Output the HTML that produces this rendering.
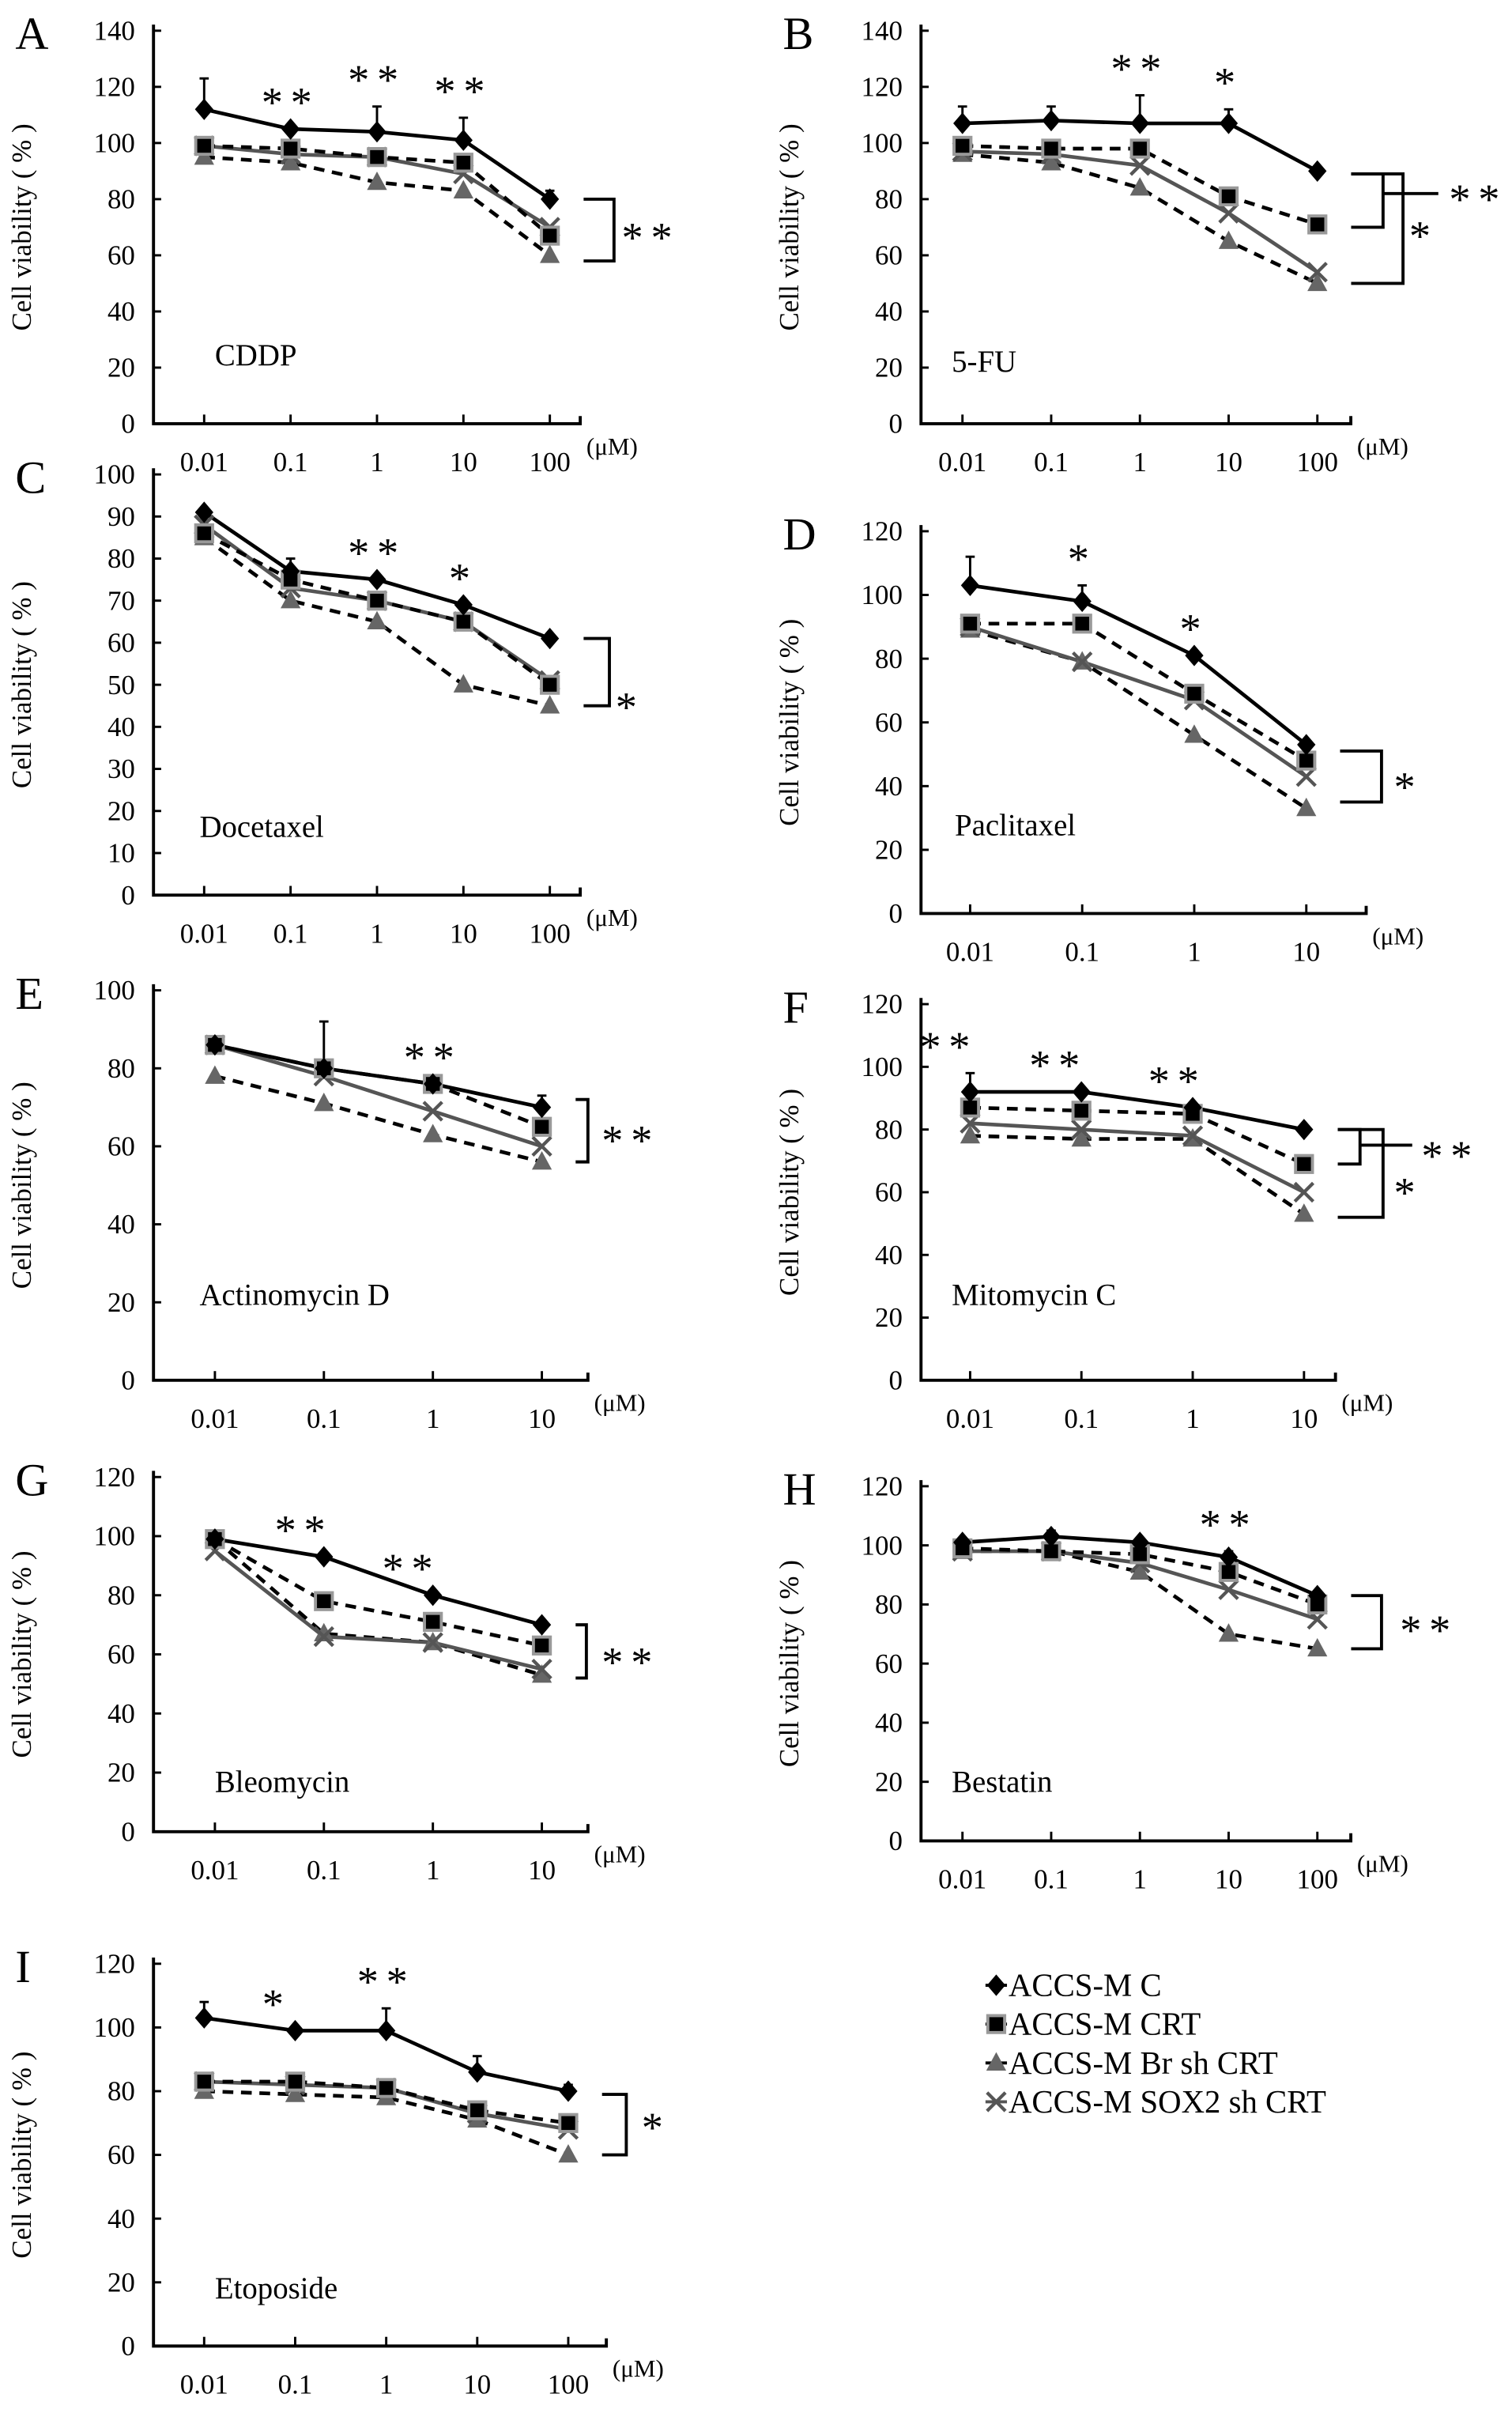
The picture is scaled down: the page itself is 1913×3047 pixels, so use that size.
<!DOCTYPE html>
<html><head><meta charset="utf-8"><style>
html,body{margin:0;padding:0;background:#fff;}
svg{display:block;font-family:"Liberation Serif",serif;}
</style></head><body>
<svg id="fig" width="1913" height="3047" viewBox="0 0 985 1569" preserveAspectRatio="none" xmlns="http://www.w3.org/2000/svg"></svg>
<script>
// ---- data arrays ----
const conc5 = ["0.01","0.1","1","10","100"];
const conc4 = ["0.01","0.1","1","10"];
const seriesNames = ["ACCS-M C","ACCS-M CRT","ACCS-M Br sh CRT","ACCS-M SOX2 sh CRT"];
const ticks140 = [0,20,40,60,80,100,120,140];
const ticks120 = [0,20,40,60,80,100,120];
const ticks100s10 = [0,10,20,30,40,50,60,70,80,90,100];
const ticks100s20 = [0,20,40,60,80,100];
// A CDDP
const aC=[112,105,104,101,80], aCerr=[11,0,9,8,3], aCRT=[99,98,95,93,67], aBr=[95,93,86,83,60], aSOX=[99,96,95,89,70];
// B 5-FU
const bC=[107,108,107,107,90], bCerr=[6,5,10,5,0], bCRT=[99,98,98,81,71], bBr=[96,93,84,65,50], bSOX=[97,96,92,75,54];
// C Docetaxel
const cC=[91,77,75,69,61], cCerr=[0,3,0,0,0], cCRT=[86,75,70,65,50], cBr=[85,70,65,50,45], cSOX=[88,73,70,65,51];
// D Paclitaxel
const dC=[103,98,81,53], dCerr=[9,5,0,0], dCRT=[91,91,69,48], dBr=[89,79,56,33], dSOX=[90,79,67,43];
// E Actinomycin D
const eC=[86,80,76,70], eCerr=[0,12,0,3], eCRT=[86,80,76,65], eBr=[78,71,63,56], eSOX=[86,78,69,60];
// F Mitomycin C
const fC=[92,92,87,80], fCerr=[6,0,0,0], fCRT=[87,86,85,69], fBr=[78,77,77,53], fSOX=[82,80,78,60];
// G Bleomycin
const gC=[99,93,80,70], gCerr=[0,0,0,0], gCRT=[99,78,71,63], gBr=[99,67,64,53], gSOX=[95,66,64,55];
// H Bestatin
const hC=[101,103,101,96,83], hCerr=[0,2,0,2,0], hCRT=[99,98,97,91,80], hBr=[98,98,91,70,65], hSOX=[98,98,94,85,75];
// I Etoposide
const iC=[103,99,99,86,80], iCerr=[5,0,7,5,2], iCRT=[83,83,81,74,70], iBr=[80,79,78,71,60], iSOX=[83,82,81,73,68];
// significance stars per point
const aStars=["","**","**","**",""], bStars=["","","**","*",""], cStars=["","","**","*",""], dStars=["","*","*",""];
const eStars=["","","**",""], fStars=["**","**","**",""], gStars=["","**","**",""], hStars=["","","","**",""], iStars=["","*","**","",""];

const NS="http://www.w3.org/2000/svg";
const svg=document.getElementById('fig');
function el(tag,attrs,parent,text){const e=document.createElementNS(NS,tag);for(const k in attrs)e.setAttribute(k,attrs[k]);if(text!==undefined)e.textContent=text;(parent||svg).appendChild(e);return e;}

function marker(g,type,x,y){
  let m;
  if(type===0){m=el('path',{d:`M${x} ${y-7}L${x+6} ${y}L${x} ${y+7}L${x-6} ${y}Z`,fill:'#000'},g);}
  else if(type===1){m=el('rect',{x:x-5.5,y:y-5.5,width:11,height:11,fill:'#000',stroke:'#999','stroke-width':2},g);}
  else if(type===2){m=el('path',{d:`M${x} ${y-7}L${x+6.5} ${y+5}L${x-6.5} ${y+5}Z`,fill:'#666'},g);}
  else {m=el('path',{d:`M${x-6} ${y-6}L${x+6} ${y+6}M${x+6} ${y-6}L${x-6} ${y+6}`,stroke:'#555','stroke-width':2.2,fill:'none'},g);}
  
  
}

function panel(cfg){
  const g=el('g',{});
  
  
  const ys=v=>cfg.y0-(v/cfg.ymax)*(cfg.y0-cfg.yTop);
  const xs=i=>cfg.x0+i*cfg.dx;
  const n=cfg.cats.length;
  const t=el('text',{x:cfg.ax-90,y:cfg.yTop+12,'font-size':30},g,cfg.letter);
  
  const ax=el('path',{d:`M${cfg.ax} ${cfg.yTop-4}L${cfg.ax} ${cfg.y0}L${cfg.xEnd} ${cfg.y0}L${cfg.xEnd} ${cfg.y0-5}`,stroke:'#000','stroke-width':2,fill:'none'},g);
  
  cfg.yt.forEach(v=>{
    el('line',{x1:cfg.ax,x2:cfg.ax+5,y1:ys(v),y2:ys(v),stroke:'#000','stroke-width':1.5},g);
    const l=el('text',{x:cfg.ax-12,y:ys(v)+6,'font-size':18,'text-anchor':'end'},g,v);
    
  });
  cfg.cats.forEach((c,i)=>{
    el('line',{x1:xs(i),x2:xs(i),y1:cfg.y0,y2:cfg.y0-6,stroke:'#000','stroke-width':1.5},g);
    const l=el('text',{x:xs(i),y:cfg.y0+31,'font-size':18,'text-anchor':'middle'},g,c);
    
  });
  const u=el('text',{x:cfg.xEnd+4,y:cfg.y0+20,'font-size':16},g,'(μM)');
  
  const yl=el('text',{x:0,y:0,'font-size':18,'text-anchor':'middle',transform:`translate(${cfg.ax-80},${(cfg.yTop+cfg.y0)/2}) rotate(-90)`},g,'Cell viability ( % )');
  
  const dl=el('text',{x:cfg.dlx,y:cfg.dly,'font-size':20},g,cfg.drug);
  
  cfg.series[0].forEach((v,i)=>{ if(cfg.err[i]>0){
    const e=el('line',{x1:xs(i),x2:xs(i),y1:ys(v),y2:ys(v+cfg.err[i]),stroke:'#000','stroke-width':1.5},g);
    
    el('line',{x1:xs(i)-3,x2:xs(i)+3,y1:ys(v+cfg.err[i]),y2:ys(v+cfg.err[i]),stroke:'#000','stroke-width':1.5},g);
  }});
  const styles=[{stroke:'#000',dash:''},{stroke:'#000',dash:'7,5'},{stroke:'#000',dash:'7,5'},{stroke:'#555',dash:''}];
  const order=[2,3,1,0];
  order.forEach(s=>{
    const vals=cfg.series[s];
    const p=el('polyline',{points:vals.map((v,i)=>xs(i)+','+ys(v)).join(' '),fill:'none',stroke:styles[s].stroke,'stroke-width':2.4,'stroke-dasharray':styles[s].dash},g);
    
    
  });
  order.forEach(s=>cfg.series[s].forEach((v,i)=>marker(g,s,xs(i),ys(v))));
  cfg.stars.forEach((s,i)=>{ if(s){
    const top=Math.max(cfg.series[0][i]+cfg.err[i],cfg.series[0][i]);
    const st=el('text',{x:xs(i)+(cfg.starDx?cfg.starDx[i]:0),y:ys(top)-8,'font-size':28,'text-anchor':'middle','letter-spacing':5},g,s);
    
  }});
  (cfg.brackets||[]).forEach(b=>{
    const bx=xs(n-1)+22;
    const p=el('path',{d:`M${bx} ${ys(b.hi)}L${b.x} ${ys(b.hi)}L${b.x} ${ys(b.lo)}L${bx} ${ys(b.lo)}`,stroke:'#000','stroke-width':2,fill:'none'},g);
    
    if(b.tail){el('line',{x1:b.x,x2:b.tail,y1:ys(b.tailV),y2:ys(b.tailV),stroke:'#000','stroke-width':2},g);}
    const st=el('text',{x:b.sx,y:b.sy+6,'font-size':28,'letter-spacing':5},g,b.label);
    
  });
}

panel({letter:'A',drug:'CDDP',dlx:140,dly:238,ax:100,yTop:20,y0:276,ymax:140,yt:ticks140,x0:133,dx:56.3,xEnd:378,cats:conc5,
  series:[aC,aCRT,aBr,aSOX],err:aCerr,stars:aStars,brackets:[{hi:80,lo:58,x:400,sx:405,sy:158,label:'**'}]});
panel({letter:'B',drug:'5-FU',dlx:620,dly:242,ax:600,yTop:20,y0:276,ymax:140,yt:ticks140,x0:627,dx:57.8,xEnd:880,cats:conc5,
  series:[bC,bCRT,bBr,bSOX],err:bCerr,stars:bStars,brackets:[{hi:89,lo:70,x:901,tail:937,tailV:82,sx:944,sy:133,label:'**'},{hi:89,lo:50,x:914,sx:918,sy:157,label:'*'}]});
panel({letter:'C',drug:'Docetaxel',dlx:130,dly:545,ax:100,yTop:309,y0:583,ymax:100,yt:ticks100s10,x0:133,dx:56.3,xEnd:378,cats:conc5,
  series:[cC,cCRT,cBr,cSOX],err:cCerr,stars:cStars,brackets:[{hi:61,lo:45,x:397,sx:401,sy:464,label:'*'}]});
panel({letter:'D',drug:'Paclitaxel',dlx:622,dly:544,ax:600,yTop:346,y0:595,ymax:120,yt:ticks120,x0:632,dx:73,xEnd:890,cats:conc4,
  series:[dC,dCRT,dBr,dSOX],err:dCerr,stars:dStars,brackets:[{hi:51,lo:35,x:900,sx:908,sy:516,label:'*'}]});
panel({letter:'E',drug:'Actinomycin D',dlx:130,dly:850,ax:100,yTop:645,y0:899,ymax:100,yt:ticks100s20,x0:140,dx:71,xEnd:383,cats:conc4,
  series:[eC,eCRT,eBr,eSOX],err:eCerr,stars:eStars,brackets:[{hi:72,lo:56,x:383,sx:392,sy:746,label:'**'}]});
panel({letter:'F',drug:'Mitomycin C',dlx:620,dly:850,ax:600,yTop:654,y0:899,ymax:120,yt:ticks120,x0:632,dx:72.5,xEnd:870,cats:conc4,
  series:[fC,fCRT,fBr,fSOX],err:fCerr,stars:fStars,starDx:[-14,-15,-10,0],brackets:[{hi:80,lo:69,x:886,tail:920,tailV:75,sx:926,sy:756,label:'**'},{hi:80,lo:52,x:901,sx:908,sy:780,label:'*'}]});
panel({letter:'G',drug:'Bleomycin',dlx:140,dly:1167,ax:100,yTop:962,y0:1193,ymax:120,yt:ticks120,x0:140,dx:71,xEnd:383,cats:conc4,
  series:[gC,gCRT,gBr,gSOX],err:gCerr,stars:gStars,starDx:[0,-13,-14,0],brackets:[{hi:70,lo:52,x:382,sx:392,sy:1086,label:'**'}]});
panel({letter:'H',drug:'Bestatin',dlx:620,dly:1167,ax:600,yTop:968,y0:1199,ymax:120,yt:ticks120,x0:627,dx:57.8,xEnd:880,cats:conc5,
  series:[hC,hCRT,hBr,hSOX],err:hCerr,stars:hStars,brackets:[{hi:83,lo:65,x:900,sx:912,sy:1065,label:'**'}]});
panel({letter:'I',drug:'Etoposide',dlx:140,dly:1497,ax:100,yTop:1279,y0:1528,ymax:120,yt:ticks120,x0:133,dx:59.3,xEnd:395,cats:conc5,
  series:[iC,iCRT,iBr,iSOX],err:iCerr,stars:iStars,starDx:[0,-12,0,0,0],brackets:[{hi:79,lo:60,x:408,sx:418,sy:1389,label:'*'}]});

const lg=el('g',{});


seriesNames.forEach((nm,i)=>{
  const y=1293+i*25.3;
  el('line',{x1:642,x2:656,y1:y,y2:y,stroke:i===3?'#555':'#000','stroke-width':2},lg);
  marker(lg,i,649,y);
  const t=el('text',{x:657,y:y+7,'font-size':21},lg,nm);
  
  
});
</script>
</body></html>
